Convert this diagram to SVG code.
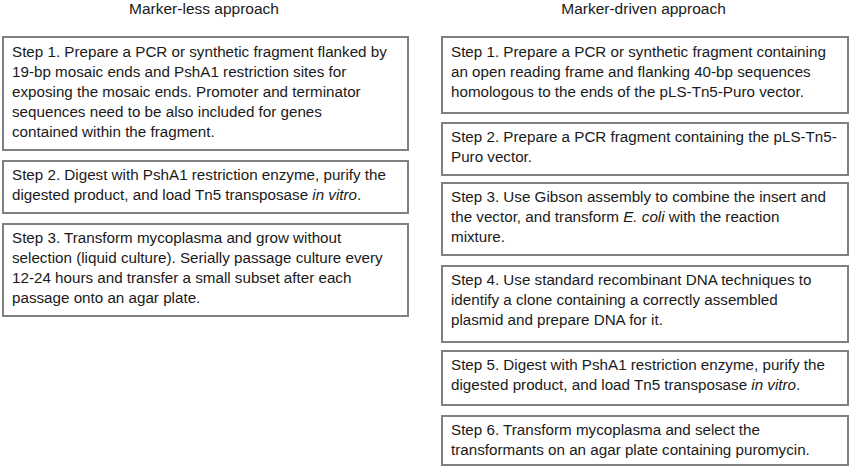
<svg xmlns="http://www.w3.org/2000/svg" width="851" height="468" viewBox="0 0 851 468">
<style>
.box{fill:#fff;stroke:#7f7f7f;stroke-width:2}
.t{font-family:"Liberation Sans",Arial,sans-serif;font-size:15.2px;fill:#1a1a1a}
.c{text-anchor:middle;font-size:15.5px}
.i{font-style:italic}
</style>
<rect width="851" height="468" fill="#fff"/>
<text class="t c" x="204" y="14">Marker-less approach</text>
<text class="t c" x="643.5" y="14">Marker-driven approach</text>

<g id="L1">
<rect class="box" x="3" y="37" width="405" height="113"/>
<text class="t" x="12" y="56.5">Step 1. Prepare a PCR or synthetic fragment flanked by</text>
<text class="t" x="12" y="76.5">19-bp mosaic ends and PshA1 restriction sites for</text>
<text class="t" x="12" y="96.5">exposing the mosaic ends. Promoter and terminator</text>
<text class="t" x="12" y="116.5">sequences need to be also included for genes</text>
<text class="t" x="12" y="136.5">contained within the fragment.</text>
</g>
<g id="L2">
<rect class="box" x="3" y="161" width="405" height="52"/>
<text class="t" x="12" y="180">Step 2. Digest with PshA1 restriction enzyme, purify the</text>
<text class="t" x="12" y="200">digested product, and load Tn5 transposase <tspan class="i">in vitro</tspan>.</text>
</g>
<g id="L3">
<rect class="box" x="3" y="224" width="405" height="92"/>
<text class="t" x="12" y="243">Step 3. Transform mycoplasma and grow without</text>
<text class="t" x="12" y="263">selection (liquid culture). Serially passage culture every</text>
<text class="t" x="12" y="283">12-24 hours and transfer a small subset after each</text>
<text class="t" x="12" y="303">passage onto an agar plate.</text>
</g>

<g id="R1">
<rect class="box" x="442" y="37" width="406" height="76"/>
<text class="t" x="451" y="56.5">Step 1. Prepare a PCR or synthetic fragment containing</text>
<text class="t" x="451" y="76.5">an open reading frame and flanking 40-bp sequences</text>
<text class="t" x="451" y="96.5">homologous to the ends of the pLS-Tn5-Puro vector.</text>
</g>
<g id="R2">
<rect class="box" x="442" y="123" width="406" height="52"/>
<text class="t" x="451" y="142">Step 2. Prepare a PCR fragment containing the pLS-Tn5-</text>
<text class="t" x="451" y="162">Puro vector.</text>
</g>
<g id="R3">
<rect class="box" x="442" y="183" width="406" height="72"/>
<text class="t" x="451" y="202">Step 3. Use Gibson assembly to combine the insert and</text>
<text class="t" x="451" y="222">the vector, and transform <tspan class="i">E. coli</tspan> with the reaction</text>
<text class="t" x="451" y="242">mixture.</text>
</g>
<g id="R4">
<rect class="box" x="442" y="266" width="406" height="76"/>
<text class="t" x="451" y="285">Step 4. Use standard recombinant DNA techniques to</text>
<text class="t" x="451" y="305">identify a clone containing a correctly assembled</text>
<text class="t" x="451" y="325">plasmid and prepare DNA for it.</text>
</g>
<g id="R5">
<rect class="box" x="442" y="351" width="406" height="54"/>
<text class="t" x="451" y="370">Step 5. Digest with PshA1 restriction enzyme, purify the</text>
<text class="t" x="451" y="390">digested product, and load Tn5 transposase <tspan class="i">in vitro</tspan>.</text>
</g>
<g id="R6">
<rect class="box" x="442" y="416" width="406" height="49"/>
<text class="t" x="451" y="435">Step 6. Transform mycoplasma and select the</text>
<text class="t" x="451" y="455">transformants on an agar plate containing puromycin.</text>
</g>
<g id="connectors"></g>
</svg>
